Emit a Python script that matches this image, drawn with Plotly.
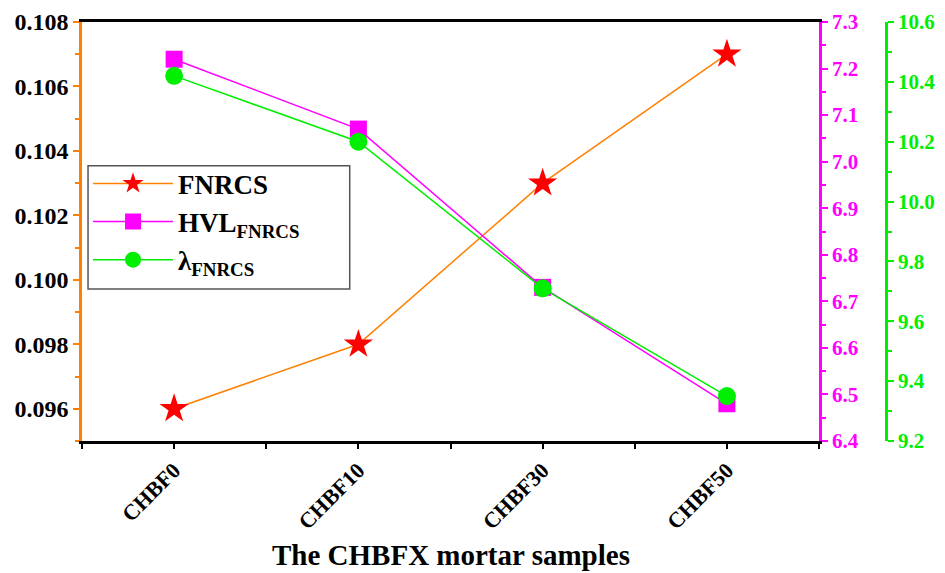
import plotly.graph_objects as go

# Samples and measured values
samples = ["CHBF0", "CHBF10", "CHBF30", "CHBF50"]
fnrcs = [0.096, 0.098, 0.103, 0.107]
hvl_fnrcs = [7.22, 7.07, 6.73, 6.48]
lambda_fnrcs = [10.42, 10.20, 9.71, 9.35]

x_pos = list(range(len(samples)))

ORANGE = "#FF7F00"
MAGENTA = "#FF00FF"
GREEN = "#00EE00"
FONT = "Liberation Serif"

fig = go.Figure()

fig.add_trace(go.Scatter(
    x=x_pos, y=fnrcs, name="FNRCS", mode="lines+markers",
    line=dict(color=ORANGE, width=1.5),
    marker=dict(symbol="star", size=22, color="#FF0000", line=dict(width=0)),
    yaxis="y",
))
fig.add_trace(go.Scatter(
    x=x_pos, y=hvl_fnrcs, name="HVL<sub>FNRCS</sub>", mode="lines+markers",
    line=dict(color=MAGENTA, width=1.5),
    marker=dict(symbol="square", size=17, color=MAGENTA, line=dict(width=0)),
    yaxis="y2",
))
fig.add_trace(go.Scatter(
    x=x_pos, y=lambda_fnrcs, name="λ<sub>FNRCS</sub>", mode="lines+markers",
    line=dict(color=GREEN, width=1.5),
    marker=dict(symbol="circle", size=18, color=GREEN, line=dict(width=0)),
    yaxis="y3",
))

fig.update_layout(
    width=945, height=573,
    margin=dict(l=82, r=59, t=22, b=132),
    paper_bgcolor="white", plot_bgcolor="white",
    showlegend=True,
    font=dict(family=FONT, color="black"),
    xaxis=dict(
        domain=[0, 0.9167],
        range=[-0.5, 3.5],
        tickvals=x_pos, ticktext=samples,
        tickangle=-45,
        tickfont=dict(family=FONT, size=22, color="black", weight="bold"),
        ticks="outside", ticklen=5, tickwidth=1.5, tickcolor="black",
        minor=dict(dtick=0.5, tick0=0.5, ticks="outside", ticklen=5,
                   tickwidth=1.5, tickcolor="black"),
        showline=True, linecolor="black", linewidth=2.5, mirror=True,
        showgrid=False, zeroline=False, automargin=False,
    ),
    yaxis=dict(
        range=[0.095, 0.108],
        tickvals=[0.096, 0.098, 0.100, 0.102, 0.104, 0.106, 0.108],
        tickformat=".3f",
        tickfont=dict(family=FONT, size=24, color="black", weight="bold"),
        ticks="outside", ticklen=6, tickwidth=1.5, tickcolor=ORANGE,
        minor=dict(dtick=0.001, tick0=0.095, ticks="outside", ticklen=4,
                   tickwidth=1.5, tickcolor=ORANGE),
        showline=True, linecolor=ORANGE, linewidth=2.5,
        showgrid=False, zeroline=False, automargin=False,
    ),
    yaxis2=dict(
        overlaying="y", side="right", anchor="x",
        range=[6.4, 7.3], dtick=0.1, tick0=6.4, tickformat=".1f",
        tickfont=dict(family=FONT, size=21, color=MAGENTA, weight="bold"),
        ticks="outside", ticklen=6, tickwidth=1.5, tickcolor=MAGENTA,
        minor=dict(dtick=0.05, tick0=6.4, ticks="outside", ticklen=4,
                   tickwidth=1.5, tickcolor=MAGENTA),
        showline=True, linecolor=MAGENTA, linewidth=2.5,
        showgrid=False, zeroline=False, automargin=False,
    ),
    yaxis3=dict(
        overlaying="y", side="right", anchor="free", position=1.0,
        range=[9.2, 10.6], dtick=0.2, tick0=9.2, tickformat=".1f",
        tickfont=dict(family=FONT, size=21, color=GREEN, weight="bold"),
        ticks="outside", ticklen=6, tickwidth=1.5, tickcolor=GREEN,
        minor=dict(dtick=0.1, tick0=9.2, ticks="outside", ticklen=4,
                   tickwidth=1.5, tickcolor=GREEN),
        showline=True, linecolor=GREEN, linewidth=2.5,
        showgrid=False, zeroline=False, automargin=False,
    ),
    legend=dict(
        x=0.0075, y=0.672, xanchor="left", yanchor="top",
        bgcolor="rgba(0,0,0,0)", borderwidth=0,
        font=dict(family=FONT, size=27, color="black", weight="bold"),
        itemwidth=80, tracegroupgap=0,
    ),
    # Frame drawn around the legend entries
    shapes=[dict(
        type="rect", xref="paper", yref="paper", layer="below",
        x0=0.0075, x1=0.333, y0=0.363, y1=0.657,
        line=dict(color="#555555", width=1.5), fillcolor="white",
    )],
    annotations=[dict(
        text="The CHBFX mortar samples", showarrow=False,
        xref="x domain", yref="paper", x=0.5, y=-0.272,
        xanchor="center", yanchor="middle",
        font=dict(family=FONT, size=29, color="black", weight="bold"),
    )],
)

fig.write_html("out.html")
